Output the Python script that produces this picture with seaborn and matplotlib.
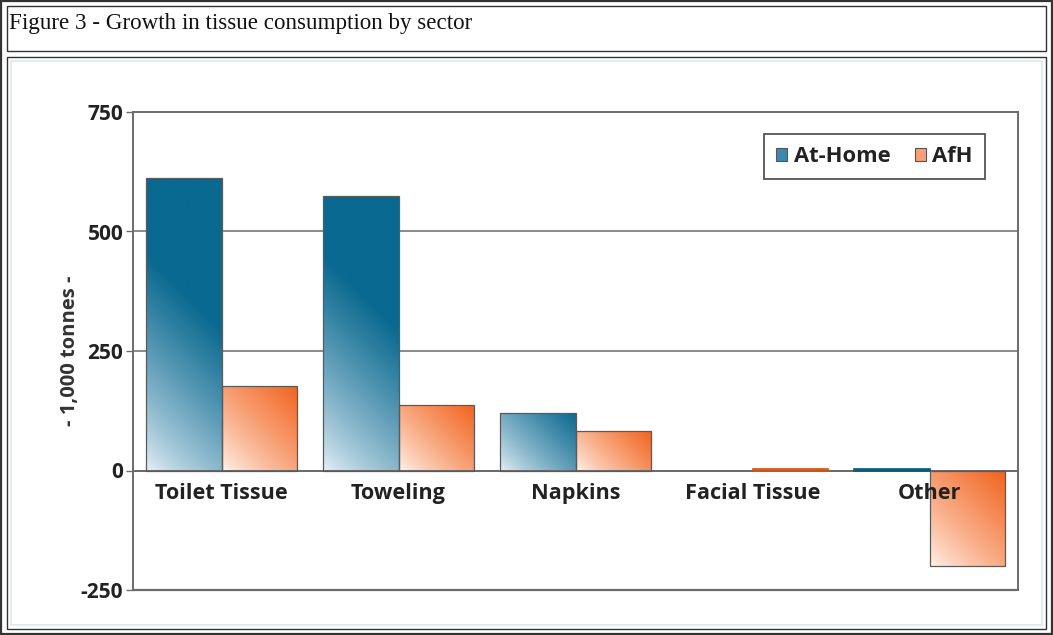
import numpy as np
import pandas as pd
import matplotlib
matplotlib.use("Agg")
import matplotlib.pyplot as plt
from matplotlib.patches import Rectangle, Patch
from matplotlib.colors import to_rgb
import seaborn as sns

# ---------------- data ----------------
categories = ["Toilet Tissue", "Toweling", "Napkins", "Facial Tissue", "Other"]
series_names = ["At-Home", "AfH"]
at_home = [612, 575, 121, 0, 4]
afh = [176, 136, 82, 4, -199]
yticks = [-250, 0, 250, 500, 750]
title = "Figure 3 - Growth in tissue consumption by sector"
ylabel = "- 1,000 tonnes -"

df = pd.DataFrame({
    "category": categories * 2,
    "series": [series_names[0]] * len(categories) + [series_names[1]] * len(categories),
    "value": at_home + afh,
})

# ---------------- style ----------------
sns.set_theme(style="white")
plt.rcParams["font.family"] = ["Open Sans", "DejaVu Sans"]

W, H = 1053, 635
fig = plt.figure(figsize=(W / 100, H / 100), dpi=100)
fig.patch.set_facecolor("white")

def fx(px):
    return px / W

def fy(py):
    return 1 - py / H

# page frame decorations (HTML-table like borders)
def frame(x0, y0, x1, y1, lw=1.0, ec="#222222", fc="none", z=0):
    fig.add_artist(Rectangle((fx(x0), fy(y1)), fx(x1) - fx(x0), fy(y0) - fy(y1),
                             transform=fig.transFigure, fill=(fc != "none"),
                             facecolor=fc if fc != "none" else "white",
                             edgecolor=ec, linewidth=lw, zorder=z))

frame(1, 1, 1052, 634, lw=1.6, ec="#333333")
frame(7, 6, 1046, 51, lw=1.0, ec="#333333")
frame(7, 57, 1046, 629, lw=1.0, ec="#333333")
frame(11, 61, 1042, 625, lw=1.2, ec="#dfe6ee", fc="white")

fig.text(fx(9), fy(23), title, family=["Liberation Serif", "DejaVu Serif"],
         fontsize=16.6, color="#111111", va="center", ha="left")

ax_left, ax_right, ax_top, ax_bottom = 133, 1018, 112, 590
ax = fig.add_axes([fx(ax_left), fy(ax_bottom), fx(ax_right) - fx(ax_left),
                   fy(ax_top) - fy(ax_bottom)])
ax.set_facecolor("white")

blue_dark, blue_light = np.array(to_rgb("#0a6990")), np.array(to_rgb("#e6f0f7"))
orange_dark, orange_light = np.array(to_rgb("#f2641f")), np.array(to_rgb("#fff4ed"))
palette = {series_names[0]: "#0a6990", series_names[1]: "#f2641f"}

sns.barplot(data=df, x="category", y="value", hue="series", order=categories,
            hue_order=series_names, palette=palette, width=0.85, legend=False,
            edgecolor="#5a5a5a", linewidth=0.9, saturation=1, ax=ax)

ax.set_xlim(-0.5, len(categories) - 0.5)
ax.set_ylim(yticks[0], yticks[-1])

# gradient fills clipped to each bar
def gradient_fill(patch, dark, light):
    x0, y0 = patch.get_x(), patch.get_y()
    w, h = patch.get_width(), patch.get_height()
    if h == 0:
        patch.set_edgecolor("none")
        return
    ylo, yhi = min(y0, y0 + h), max(y0, y0 + h)
    p0 = ax.transData.transform((x0, ylo))
    p1 = ax.transData.transform((x0 + w, yhi))
    wp, hp = p1[0] - p0[0], p1[1] - p0[1]
    if hp < 8:
        patch.set_facecolor(dark)
        patch.set_edgecolor(dark * 0.85)
        patch.set_linewidth(1.2)
        return
    n = 80
    U, V = np.meshgrid(np.linspace(0, 1, n), np.linspace(0, 1, n))
    d = U * wp + V * hp
    D = min(wp + hp, 215)
    t = np.clip(d / D, 0, 1) ** 0.8
    rgb = light + (dark - light) * t[..., None]
    im = ax.imshow(rgb, extent=(x0, x0 + w, ylo, yhi), origin="lower",
                   aspect="auto", interpolation="bilinear", zorder=0.9)
    im.set_clip_path(patch)
    patch.set_facecolor("none")
    patch.set_zorder(1)

for patch in list(ax.patches):
    fc = np.array(patch.get_facecolor()[:3])
    if np.allclose(fc, blue_dark, atol=0.02):
        gradient_fill(patch, blue_dark, blue_light)
    elif np.allclose(fc, orange_dark, atol=0.02):
        gradient_fill(patch, orange_dark, orange_light)

ax.set_xlim(-0.5, len(categories) - 0.5)
ax.set_ylim(yticks[0], yticks[-1])
ax.set_aspect("auto")

# grid lines behind bars
line_col = "#6b6b6b"
for yv in yticks[1:-1]:
    ax.axhline(yv, color=line_col, linewidth=1.1, zorder=0.5)
ax.axhline(yticks[0], color=line_col, linewidth=1.6, zorder=2.6, clip_on=False)

# spines
ax.set_axisbelow(False)
for s in ["left", "right", "top", "bottom"]:
    ax.spines[s].set_visible(True)
    ax.spines[s].set_color(line_col)
    ax.spines[s].set_linewidth(1.4)
ax.spines["bottom"].set_position(("data", 0))
ax.spines["bottom"].set_zorder(0.95)

ax.set_yticks(yticks)
ax.set_yticklabels([str(v) for v in yticks])
ax.tick_params(axis="y", left=True, length=5, width=1.0, color=line_col, pad=2,
               labelsize=15, labelcolor="#222222")
for lab in ax.get_yticklabels():
    lab.set_fontweight("bold")

ax.tick_params(axis="x", bottom=False, length=0, pad=9, labelsize=15.6,
               labelcolor="#222222")
for lab in ax.get_xticklabels():
    lab.set_fontweight("bold")
ax.set_xlabel("")

ax.set_ylabel(ylabel, fontsize=14.5, fontweight="bold", color="#333333")
ax.yaxis.set_label_coords((80 - ax_left) / (ax_right - ax_left), 0.5)

# legend
handles = [Patch(facecolor="#3a88ad", edgecolor="#555555", linewidth=0.8, label=series_names[0]),
           Patch(facecolor="#f7a078", edgecolor="#555555", linewidth=0.8, label=series_names[1])]
leg = ax.legend(handles=handles, ncol=2, loc="upper right",
                bbox_to_anchor=((985 - ax_left) / (ax_right - ax_left),
                                (ax_bottom - 134) / (ax_bottom - ax_top)),
                prop={"weight": "bold", "size": 15.8}, frameon=True, fancybox=False,
                edgecolor="#555555", framealpha=1, handlelength=0.5, handleheight=0.5,
                handletextpad=0.3, columnspacing=1.1, borderpad=0.55, borderaxespad=0)
leg.get_frame().set_linewidth(1.3)
for txt in leg.get_texts():
    txt.set_color("#222222")

fig.savefig("out.png", dpi=100)
